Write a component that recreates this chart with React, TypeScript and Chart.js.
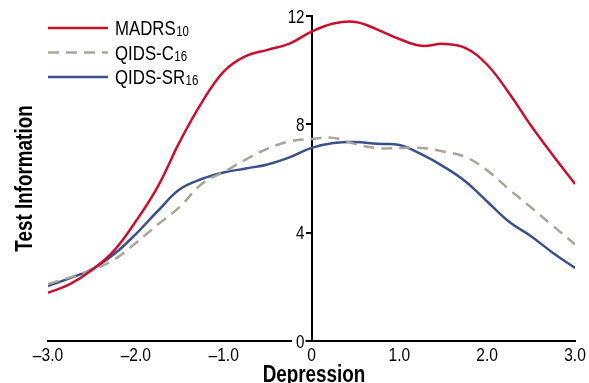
import React, { useEffect, useRef } from 'react';
import { Chart, registerables } from 'chart.js';

Chart.register(...registerables);

// ---- data ----
const depression = [-3, -2.75, -2.5, -2.25, -2, -1.75, -1.5, -1.25, -1, -0.75, -0.5, -0.25, 0, 0.25, 0.5, 0.75, 1, 1.25, 1.5, 1.75, 2, 2.25, 2.5, 2.75, 3];
const madrs10 = [1.78, 2.1, 2.62, 3.33, 4.42, 5.7, 7.36, 8.8, 9.95, 10.52, 10.75, 10.98, 11.42, 11.72, 11.78, 11.5, 11.15, 10.9, 10.97, 10.82, 10.2, 9.15, 7.95, 6.85, 5.8];
const qidsC16 = [2.1, 2.35, 2.62, 3.0, 3.62, 4.3, 4.95, 5.8, 6.24, 6.7, 7.1, 7.37, 7.46, 7.5, 7.27, 7.12, 7.13, 7.13, 7.0, 6.8, 6.3, 5.6, 4.93, 4.25, 3.57];
const qidsSR16 = [2.03, 2.32, 2.65, 3.2, 3.95, 4.8, 5.6, 5.98, 6.22, 6.37, 6.52, 6.78, 7.13, 7.31, 7.35, 7.28, 7.24, 6.9, 6.45, 5.9, 5.15, 4.4, 3.87, 3.25, 2.7];

const xTicks = [-3, -2, -1, 0, 1, 2, 3];
const xTickLabels = ['\u20133.0', '\u20132.0', '\u20131.0', '0', '1.0', '2.0', '3.0'];
const yTicks = [0, 4, 8, 12];
const yTickLabels = ['0', '4', '8', '12'];

const legendNames = ['MADRS', 'QIDS-C', 'QIDS-SR'];
const legendSubs = ['10', '16', '16'];
const xTitle = 'Depression';
const yTitle = 'Test Information';

// ---- styles ----
const FONT = "'Liberation Sans', Arial, sans-serif";
const NARROW = 0.82; // horizontal squeeze to mimic a condensed face
const RED = '#C8102E';
const GRAY = '#A9A59C';
const BLUE = '#3A5289';
const GRAY_DASH = [11, 7];

function narrowText(
  ctx: CanvasRenderingContext2D,
  text: string,
  x: number,
  y: number,
  font: string,
  align: CanvasTextAlign,
) {
  ctx.save();
  ctx.font = font;
  ctx.textAlign = align;
  ctx.textBaseline = 'alphabetic';
  ctx.translate(x, y);
  ctx.scale(NARROW, 1);
  ctx.fillText(text, 0, 0);
  ctx.restore();
}

const decorPlugin = {
  id: 'decor',
  afterDraw(chart: any) {
    const ctx = chart.ctx as CanvasRenderingContext2D;
    const xs = chart.scales.x;
    const ys = chart.scales.y;
    const ax = xs.getPixelForValue(0);
    const area = chart.chartArea;
    ctx.save();
    ctx.fillStyle = '#000';

    // x tick labels
    xTicks.forEach((v, i) => {
      narrowText(ctx, xTickLabels[i], xs.getPixelForValue(v), area.bottom + 20, `19px ${FONT}`, 'center');
    });

    // y tick labels next to the centred axis
    const yFont = `18.5px ${FONT}`;
    yTicks.forEach((v, i) => {
      const py = ys.getPixelForValue(v);
      const label = yTickLabels[i];
      const lx = ax - 7;
      if (v === 0) {
        ctx.font = yFont;
        const w = ctx.measureText(label).width * NARROW;
        ctx.fillStyle = '#fff';
        ctx.fillRect(lx - w - 4, py - 3, w + 5, 6);
        ctx.fillStyle = '#000';
      }
      narrowText(ctx, label, lx, py + 6.5, yFont, 'right');
    });

    // y title
    ctx.save();
    ctx.translate(32, (area.top + area.bottom) / 2);
    ctx.rotate(-Math.PI / 2);
    ctx.scale(NARROW, 1);
    ctx.font = `bold 23px ${FONT}`;
    ctx.textAlign = 'center';
    ctx.textBaseline = 'alphabetic';
    ctx.fillText(yTitle, 0, 0);
    ctx.restore();

    // x title
    narrowText(ctx, xTitle, 314, 381.5, `bold 23px ${FONT}`, 'center');

    // legend
    const datasets = chart.data.datasets;
    legendNames.forEach((name, i) => {
      const ds = datasets[i];
      const ly = 28 + i * 24.5;
      ctx.save();
      ctx.strokeStyle = ds.borderColor;
      ctx.lineWidth = 2.5;
      ctx.setLineDash(ds.borderDash || []);
      ctx.beginPath();
      ctx.moveTo(48, ly);
      ctx.lineTo(108, ly);
      ctx.stroke();
      ctx.restore();
      const nameFont = `20.5px ${FONT}`;
      narrowText(ctx, name, 115, ly + 7, nameFont, 'left');
      ctx.font = nameFont;
      const w = ctx.measureText(name).width * NARROW;
      narrowText(ctx, legendSubs[i], 115 + w + 0.5, ly + 8, `14px ${FONT}`, 'left');
    });

    ctx.restore();
  },
};

export default function App() {
  const ref = useRef<HTMLCanvasElement>(null);

  useEffect(() => {
    document.body.style.margin = '0';
    const toPts = (ys: number[]) => depression.map((x, i) => ({ x, y: ys[i] }));
    const chart = new Chart(ref.current as HTMLCanvasElement, {
      type: 'line',
      data: {
        datasets: [
          {
            label: 'MADRS10',
            data: toPts(madrs10),
            borderColor: RED,
            borderWidth: 2.5,
            pointRadius: 0,
            tension: 0.4,
            fill: false,
          },
          {
            label: 'QIDS-C16',
            data: toPts(qidsC16),
            borderColor: GRAY,
            borderWidth: 2.5,
            borderDash: GRAY_DASH,
            pointRadius: 0,
            tension: 0.4,
            fill: false,
          },
          {
            label: 'QIDS-SR16',
            data: toPts(qidsSR16),
            borderColor: BLUE,
            borderWidth: 2.5,
            pointRadius: 0,
            tension: 0.4,
            fill: false,
          },
        ],
      },
      options: {
        responsive: false,
        animation: false,
        layout: { padding: { left: 48, right: 14, top: 16, bottom: 42 } },
        plugins: {
          legend: { display: false },
          tooltip: { enabled: false },
          title: { display: false },
        },
        scales: {
          x: {
            type: 'linear',
            position: 'bottom',
            min: -3,
            max: 3,
            afterBuildTicks: (scale: any) => {
              scale.ticks = xTicks.map((v) => ({ value: v }));
            },
            grid: { display: false, drawTicks: false },
            border: { display: true, color: '#000', width: 2 },
            ticks: { display: false },
          },
          y: {
            type: 'linear',
            position: { x: 0 } as any,
            min: 0,
            max: 12,
            afterBuildTicks: (scale: any) => {
              scale.ticks = yTicks.map((v) => ({ value: v }));
            },
            grid: {
              display: true,
              drawOnChartArea: false,
              drawTicks: true,
              tickLength: 5,
              color: '#000',
              lineWidth: 2,
            },
            border: { display: true, color: '#000', width: 2 },
            ticks: { display: false },
          },
        },
      },
      plugins: [decorPlugin],
    } as any);
    return () => chart.destroy();
  }, []);

  return (
    <div style={{ position: 'absolute', left: 0, top: 0, width: 589, height: 383 }}>
      <canvas ref={ref} width={589} height={383} style={{ display: 'block' }} />
    </div>
  );
}
